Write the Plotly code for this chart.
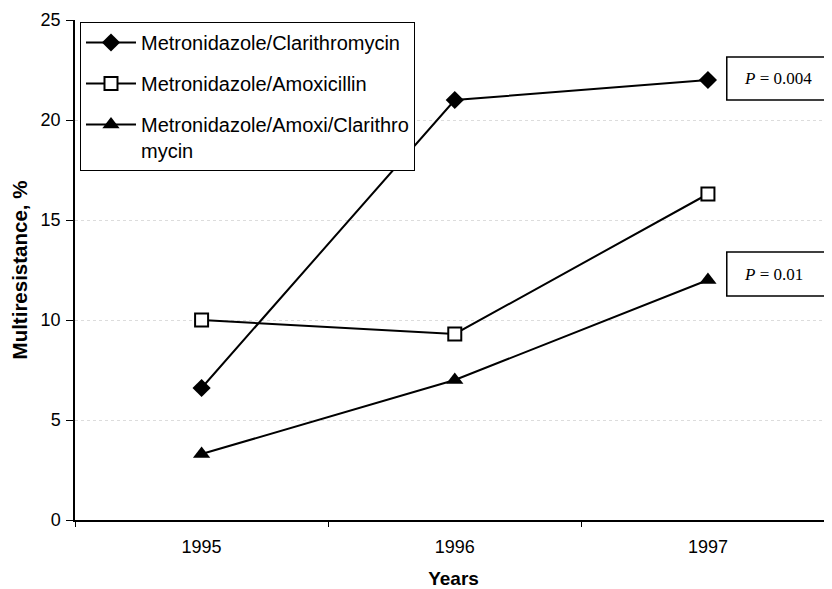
import plotly.graph_objects as go

years = ["1995", "1996", "1997"]
met_clari = [6.6, 21.0, 22.0]
met_amox = [10.0, 9.3, 16.3]
met_amox_clari = [3.3, 7.0, 12.0]
series_names = [
    "Metronidazole/Clarithromycin",
    "Metronidazole/Amoxicillin",
    "Metronidazole/Amoxi/Clarithro<br>mycin",
]
p_labels = ["<i>P</i> = 0.004", "<i>P</i> = 0.01"]
y_ticks = [0, 5, 10, 15, 20, 25]

fig = go.Figure()
fig.add_trace(go.Scatter(
    x=years, y=met_clari, mode="lines+markers",
    name=series_names[0], legendgroup="g1",
    line=dict(color="black", width=2),
    marker=dict(symbol="diamond", size=14, color="black"),
))
fig.add_trace(go.Scatter(
    x=years, y=met_amox, mode="lines+markers",
    name=series_names[1], legendgroup="g2",
    line=dict(color="black", width=2),
    marker=dict(symbol="square", size=13, color="white",
                line=dict(color="black", width=2)),
))
fig.add_trace(go.Scatter(
    x=years, y=met_amox_clari, mode="lines+markers",
    name=series_names[2], legendgroup="g3",
    line=dict(color="black", width=2),
    marker=dict(symbol="triangle-up", size=15, color="black"),
))

# p-value boxes
boxes = [(0.84, 0.926), (0.448, 0.536)]
for (y0, y1), lab in zip(boxes, p_labels):
    fig.add_shape(type="rect", xref="paper", yref="paper",
                  x0=0.861, x1=1.03, y0=y0, y1=y1,
                  line=dict(color="black", width=1.5), fillcolor="white")
    fig.add_annotation(xref="paper", yref="paper", x=0.881, y=(y0 + y1) / 2,
                       xanchor="left", yanchor="middle", showarrow=False,
                       text=lab,
                       font=dict(family="Liberation Serif", size=17, color="black"))

fig.update_layout(
    width=824, height=581,
    margin=dict(l=67, r=0, t=12, b=69),
    paper_bgcolor="white", plot_bgcolor="white",
    font=dict(family="Liberation Sans, Arial", size=18, color="black"),
    showlegend=True,
    legend=dict(
        x=0.0066, y=0.996, xanchor="left", yanchor="top",
        bordercolor="black", borderwidth=1, bgcolor="white",
        font=dict(size=20, color="black"),
        valign="top", itemwidth=50, tracegroupgap=12,
    ),
    xaxis=dict(
        type="category", range=[-0.5, 2.49],
        showline=True, linecolor="black", linewidth=1.5,
        ticks="outside", tickson="boundaries", ticklen=5, tickcolor="black",
        showgrid=False, zeroline=False,
        tickfont=dict(size=18), ticklabelstandoff=10,
        title=dict(text="<b>Years</b>", font=dict(size=19), standoff=18),
    ),
    yaxis=dict(
        range=[0, 25], tickvals=y_ticks,
        showline=True, linecolor="black", linewidth=1.5,
        ticks="outside", ticklen=7, tickcolor="black",
        showgrid=True, gridcolor="#dcdcdc", griddash="dot", gridwidth=1,
        zeroline=False,
        tickfont=dict(size=18), ticklabelstandoff=2,
        title=dict(text="<b>Multiresistance, %</b>", font=dict(size=20.5), standoff=9),
    ),
)

fig.write_html("out.html")
